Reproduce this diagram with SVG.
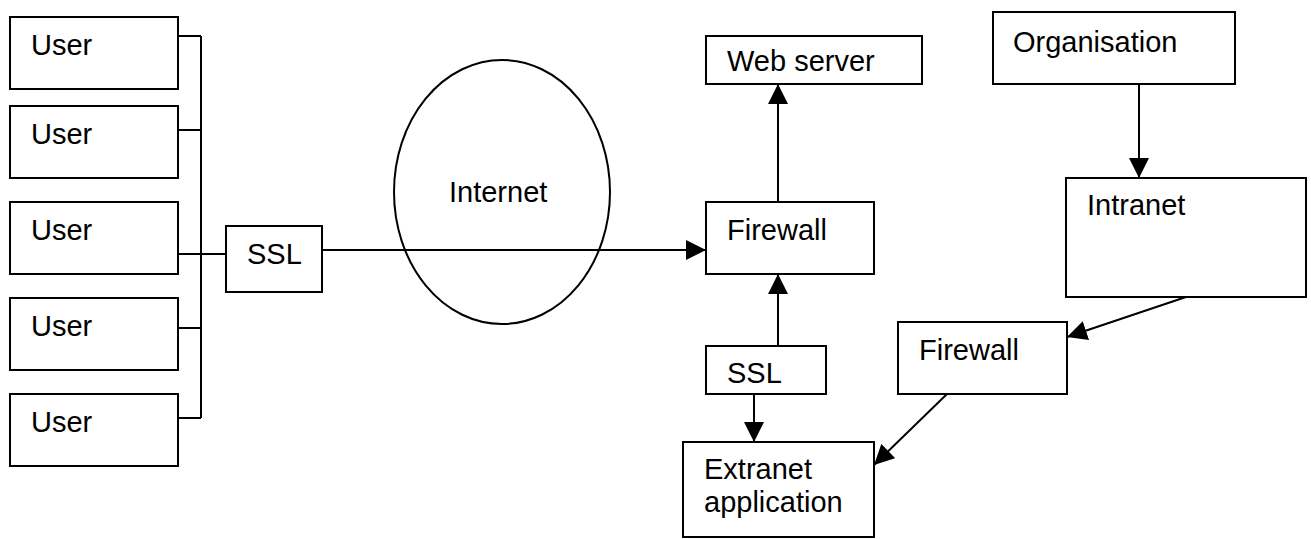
<svg xmlns="http://www.w3.org/2000/svg" width="1311" height="539" viewBox="0 0 1311 539">
<defs>
<style>
.box{fill:#fff;stroke:#000;stroke-width:2}
.ln{fill:none;stroke:#000;stroke-width:2}
.ar{fill:none;stroke:#000;stroke-width:2;marker-end:url(#ah)}
text{font-family:"Liberation Sans",Arial,sans-serif;font-size:29px;fill:#000}
</style>
<marker id="ah" markerUnits="userSpaceOnUse" markerWidth="20" markerHeight="20" refX="20" refY="10" orient="auto" viewBox="0 0 20 20">
<path d="M0,0 L20,10 L0,20 Z" fill="#000"/>
</marker>
</defs>
<rect width="1311" height="539" fill="#fff"/>
<g id="connectors">
<path class="ln" d="M201,36 V418 M178,36 H201 M178,130 H201 M178,254 H226 M178,328 H201 M178,418 H201"/>
<path class="ln" d="M176,57 V60"/>
<path class="ar" d="M322,250 H706"/>
<path class="ar" d="M778,202 V84"/>
<path class="ar" d="M778,346 V274"/>
<path class="ar" d="M754,394 V442"/>
<path class="ar" d="M1139,84 V178"/>
<path class="ar" d="M1186,297 L1067,337"/>
<path class="ar" d="M947,394 L874,465"/>
</g>
<g id="user1"><rect class="box" x="10" y="17" width="168" height="72"/><text x="31" y="55">User</text></g>
<g id="user2"><rect class="box" x="10" y="106" width="168" height="72"/><text x="31" y="144">User</text></g>
<g id="user3"><rect class="box" x="10" y="202" width="168" height="72"/><text x="31" y="240">User</text></g>
<g id="user4"><rect class="box" x="10" y="298" width="168" height="72"/><text x="31" y="336">User</text></g>
<g id="user5"><rect class="box" x="10" y="394" width="168" height="72"/><text x="31" y="432">User</text></g>
<g id="ssl1"><rect class="box" x="226" y="226" width="96" height="66"/><text x="247" y="264">SSL</text></g>
<g id="internet"><ellipse cx="502" cy="192" rx="108" ry="132" fill="none" stroke="#000" stroke-width="2"/><text x="449" y="202">Internet</text></g>
<g id="webserver"><rect class="box" x="706" y="36" width="216" height="48"/><text x="727" y="71">Web server</text></g>
<g id="firewall1"><rect class="box" x="706" y="202" width="168" height="72"/><text x="727" y="240">Firewall</text></g>
<g id="ssl2"><rect class="box" x="706" y="346" width="120" height="48"/><text x="727" y="383">SSL</text></g>
<g id="extranet"><rect class="box" x="683" y="442" width="191" height="95"/><text x="704" y="479">Extranet</text><text x="704" y="512">application</text></g>
<g id="firewall2"><rect class="box" x="898" y="322" width="169" height="72"/><text x="919" y="360">Firewall</text></g>
<g id="organisation"><rect class="box" x="993" y="12" width="242" height="72"/><text x="1013" y="52">Organisation</text></g>
<g id="intranet"><rect class="box" x="1066" y="178" width="240" height="119"/><text x="1087" y="215">Intranet</text></g>
</svg>
